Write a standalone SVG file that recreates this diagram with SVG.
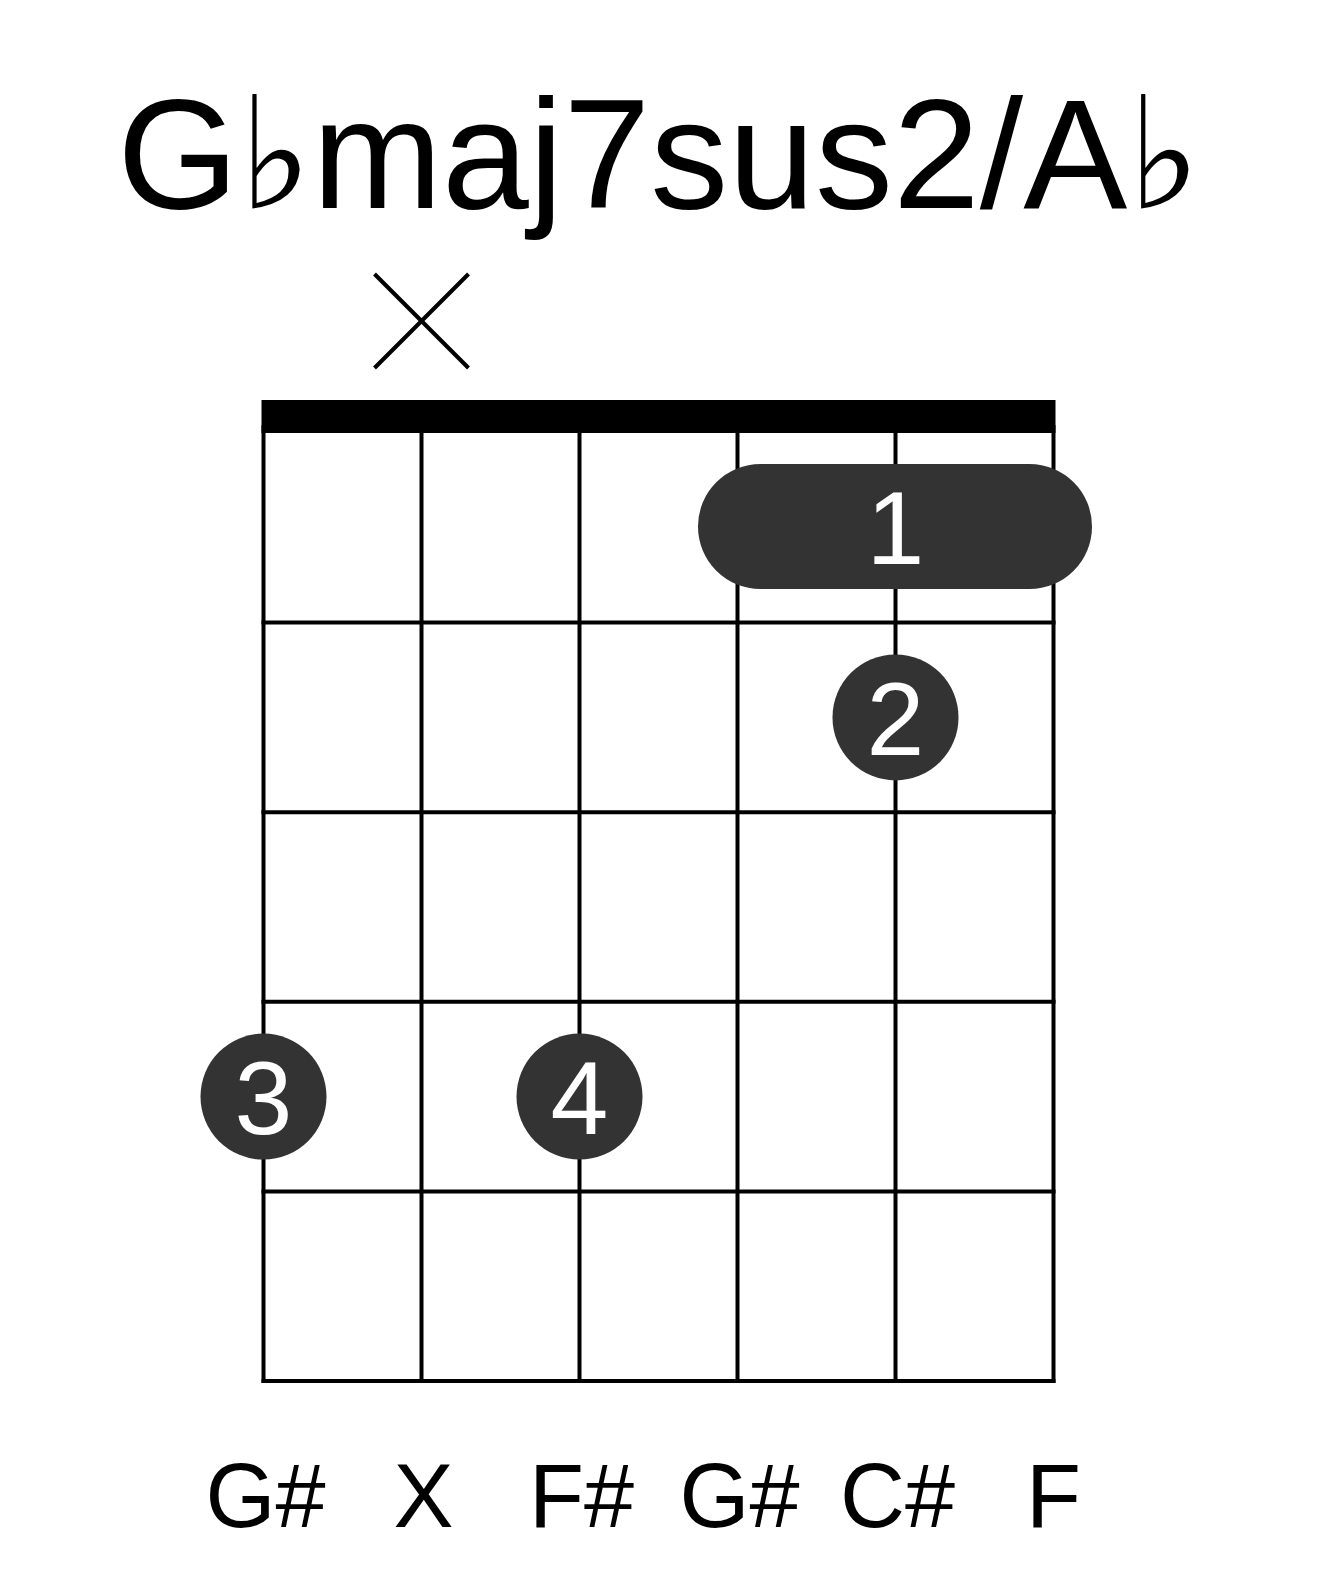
<svg xmlns="http://www.w3.org/2000/svg" width="1317" height="1581" viewBox="0 0 1317 1581">
<style>
.grid line{stroke:#000;stroke-width:4}
.dot{fill:#333333}
.fn{font-family:"Liberation Sans",Arial,sans-serif;font-size:104px;fill:#fff;text-anchor:middle}
.lbl{font-family:"Liberation Sans",Arial,sans-serif;font-size:90px;fill:#000;text-anchor:middle}
.title{font-family:"Liberation Sans","DejaVu Sans",Arial,sans-serif;font-size:156px;fill:#000;text-anchor:middle}
.mute{stroke:#000;stroke-width:4;fill:none}
</style>
<rect width="1317" height="1581" fill="#fff"/>
<text class="title" x="659" y="208">G♭maj7sus2/A♭</text>
<g id="mute-x" class="mute">
<line x1="374.5" y1="274" x2="468.5" y2="368"/>
<line x1="468.5" y1="274" x2="374.5" y2="368"/>
</g>
<g id="connectors" class="grid">
<line x1="263.5" y1="425" x2="263.5" y2="1383"/>
<line x1="421.5" y1="425" x2="421.5" y2="1383"/>
<line x1="579.5" y1="425" x2="579.5" y2="1383"/>
<line x1="737.5" y1="425" x2="737.5" y2="1383"/>
<line x1="895.5" y1="425" x2="895.5" y2="1383"/>
<line x1="1053.5" y1="425" x2="1053.5" y2="1383"/>
<line x1="261.5" y1="622.6" x2="1055.5" y2="622.6"/>
<line x1="261.5" y1="812.2" x2="1055.5" y2="812.2"/>
<line x1="261.5" y1="1001.8" x2="1055.5" y2="1001.8"/>
<line x1="261.5" y1="1191.4" x2="1055.5" y2="1191.4"/>
<line x1="261.5" y1="1381" x2="1055.5" y2="1381"/>
</g>
<rect id="nut" x="261.5" y="400" width="794" height="33" fill="#000"/>
<g id="barre-1">
<rect class="dot" x="698" y="464" width="394" height="125" rx="62.5" ry="62.5"/>
<text class="fn" x="895.5" y="564">1</text>
</g>
<g id="finger-2">
<circle class="dot" cx="895.5" cy="717.4" r="63"/>
<text class="fn" x="895.5" y="754.5">2</text>
</g>
<g id="finger-3">
<circle class="dot" cx="263.5" cy="1096.6" r="63"/>
<text class="fn" x="263.5" y="1134">3</text>
</g>
<g id="finger-4">
<circle class="dot" cx="579.5" cy="1096.6" r="63"/>
<text class="fn" x="579.5" y="1134">4</text>
</g>
<g id="labels">
<text class="lbl" x="265.5" y="1527">G#</text>
<text class="lbl" x="423.5" y="1527">X</text>
<text class="lbl" x="581.5" y="1527">F#</text>
<text class="lbl" x="739.5" y="1527">G#</text>
<text class="lbl" x="897.5" y="1527">C#</text>
<text class="lbl" x="1053.5" y="1527">F</text>
</g>
</svg>
